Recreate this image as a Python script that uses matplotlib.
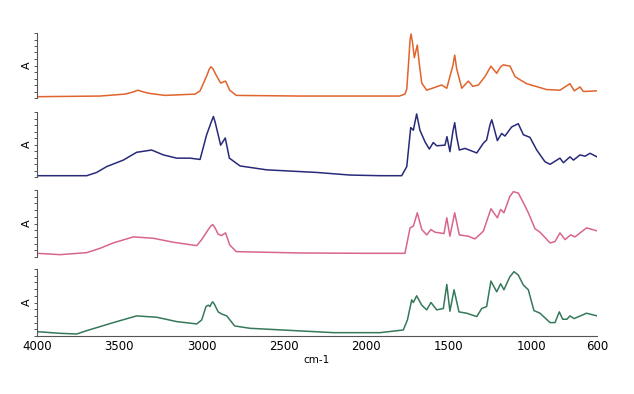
import numpy as np
import matplotlib
matplotlib.use('Agg')
import matplotlib.pyplot as plt
from matplotlib.ticker import MultipleLocator

plt.rcParams['font.family'] = 'DejaVu Sans'

# --- spectra (wavenumber, relative absorbance 0..1 within each panel) ---
wn_orange = [4000, 3618, 3466, 3420, 3387, 3350, 3314, 3223, 3040, 3010, 2968, 2955, 2944,
             2932, 2914, 2885, 2865, 2855, 2830, 2790, 2400, 2000, 1800, 1766, 1755, 1745,
             1735, 1729, 1720, 1709, 1691, 1680, 1664, 1634, 1543, 1512, 1475, 1464, 1452,
             1421, 1381, 1354, 1320, 1280, 1244, 1209, 1185, 1169, 1128, 1098, 1067, 1027,
             906, 825, 764, 738, 703, 683, 600]
a_orange = [0.02, 0.03, 0.06, 0.09, 0.12, 0.09, 0.07, 0.04, 0.06, 0.11, 0.35, 0.44, 0.48,
            0.45, 0.36, 0.23, 0.25, 0.26, 0.12, 0.04, 0.03, 0.03, 0.03, 0.06, 0.14, 0.50,
            0.90, 0.985, 0.85, 0.62, 0.815, 0.55, 0.23, 0.12, 0.20, 0.15, 0.50, 0.66, 0.45,
            0.15, 0.26, 0.18, 0.20, 0.33, 0.49, 0.38, 0.48, 0.51, 0.49, 0.33, 0.28, 0.22,
            0.13, 0.12, 0.22, 0.11, 0.17, 0.10, 0.11]

wn_navy = [4000, 3698, 3638, 3577, 3476, 3395, 3304, 3233, 3152, 3071, 3010, 2970, 2940,
           2929, 2918, 2885, 2857, 2832, 2767, 2605, 2302, 2100, 1917, 1786, 1755, 1731,
           1715, 1695, 1675, 1644, 1618, 1594, 1573, 1523, 1511, 1493, 1475, 1464, 1452,
           1436, 1401, 1330, 1290, 1270, 1250, 1239, 1228, 1205, 1179, 1159, 1118, 1078,
           1047, 1007, 966, 916, 885, 825, 804, 764, 743, 703, 673, 642, 600]
a_navy = [0.02, 0.02, 0.07, 0.16, 0.26, 0.38, 0.415, 0.34, 0.29, 0.29, 0.27, 0.65, 0.86,
          0.93, 0.84, 0.49, 0.60, 0.29, 0.17, 0.11, 0.07, 0.03, 0.02, 0.02, 0.16, 0.76,
          0.72, 0.97, 0.72, 0.54, 0.43, 0.53, 0.48, 0.49, 0.62, 0.39, 0.70, 0.835, 0.62,
          0.415, 0.44, 0.37, 0.52, 0.57, 0.80, 0.88, 0.78, 0.56, 0.67, 0.63, 0.77, 0.82,
          0.65, 0.61, 0.415, 0.235, 0.195, 0.29, 0.22, 0.31, 0.26, 0.34, 0.32, 0.365, 0.31]

wn_pink = [4000, 3860, 3698, 3617, 3537, 3415, 3294, 3172, 3030, 3000, 2960, 2945, 2933,
           2920, 2900, 2880, 2855, 2830, 2790, 2400, 2000, 1766, 1735, 1715, 1691, 1664,
           1634, 1609, 1583, 1529, 1512, 1493, 1464, 1436, 1381, 1341, 1290, 1244, 1205,
           1185, 1165, 1130, 1108, 1078, 1047, 1017, 976, 946, 885, 855, 825, 794, 760,
           734, 663, 600]
a_pink = [0.055, 0.035, 0.065, 0.13, 0.21, 0.30, 0.28, 0.22, 0.17, 0.26, 0.41, 0.46, 0.485,
          0.44, 0.34, 0.32, 0.36, 0.18, 0.08, 0.06, 0.055, 0.055, 0.435, 0.46, 0.66, 0.41,
          0.33, 0.41, 0.37, 0.35, 0.585, 0.31, 0.66, 0.33, 0.31, 0.27, 0.385, 0.72, 0.585,
          0.71, 0.66, 0.90, 0.975, 0.955, 0.81, 0.66, 0.42, 0.37, 0.21, 0.23, 0.36, 0.26,
          0.33, 0.30, 0.435, 0.39]

wn_green = [4000, 3860, 3759, 3698, 3617, 3537, 3395, 3273, 3152, 3030, 3000, 2974, 2960,
            2950, 2940, 2933, 2922, 2900, 2880, 2848, 2800, 2707, 2200, 1917, 1776, 1751,
            1725, 1715, 1695, 1664, 1634, 1608, 1573, 1533, 1512, 1493, 1468, 1438, 1391,
            1330, 1300, 1270, 1244, 1209, 1185, 1165, 1130, 1104, 1078, 1047, 1017, 983,
            946, 885, 855, 829, 808, 783, 764, 739, 663, 600]
a_green = [0.065, 0.04, 0.03, 0.08, 0.14, 0.20, 0.30, 0.28, 0.215, 0.18, 0.24, 0.44, 0.46,
           0.44, 0.49, 0.51, 0.47, 0.36, 0.33, 0.30, 0.15, 0.115, 0.05, 0.05, 0.09, 0.24,
           0.54, 0.50, 0.60, 0.46, 0.39, 0.50, 0.39, 0.41, 0.77, 0.37, 0.69, 0.36, 0.34,
           0.29, 0.41, 0.44, 0.82, 0.66, 0.78, 0.69, 0.88, 0.96, 0.91, 0.76, 0.69, 0.38,
           0.34, 0.20, 0.20, 0.36, 0.25, 0.25, 0.30, 0.26, 0.34, 0.30]

spectra = [(wn_orange, a_orange, '#e0642c'),
           (wn_navy, a_navy, '#272a78'),
           (wn_pink, a_pink, '#d9658e'),
           (wn_green, a_green, '#36795a')]

xticks = [4000, 3500, 3000, 2500, 2000, 1500, 1000, 600]

# --- panel geometry (figure fractions) ---
left, width = 37/634, 560/634
panels = [(33, 98), (112, 177), (190, 257), (269, 336)]

fig = plt.figure(figsize=(6.34, 3.94), dpi=100)
spine_col = '#555555'
for i, ((top, bot), (wn, a, col)) in enumerate(zip(panels, spectra)):
    ax = fig.add_axes([left, 1 - bot/394, width, (bot - top)/394])
    ax.plot(wn, a, color=col, lw=1.1)
    ax.set_xlim(4000, 600)
    ax.set_ylim(0, 1)
    for s in ['top', 'right']:
        ax.spines[s].set_visible(False)
    ax.spines['left'].set_color(spine_col)
    ax.spines['left'].set_linewidth(0.8)
    ax.yaxis.set_major_locator(MultipleLocator(0.1))
    ax.tick_params(axis='y', length=2.5, width=0.7, color=spine_col, labelleft=False)
    ax.set_ylabel('A', fontsize=8, labelpad=1)
    if i < 3:
        ax.spines['bottom'].set_visible(False)
        ax.set_xticks([])
    else:
        ax.spines['bottom'].set_color(spine_col)
        ax.spines['bottom'].set_linewidth(0.8)
        ax.set_xticks(xticks)
        ax.tick_params(axis='x', length=0, labelsize=8.5, pad=3)
        ax.set_xlabel('cm-1', fontsize=7.5, labelpad=1)

fig.savefig('out.png', dpi=100)
